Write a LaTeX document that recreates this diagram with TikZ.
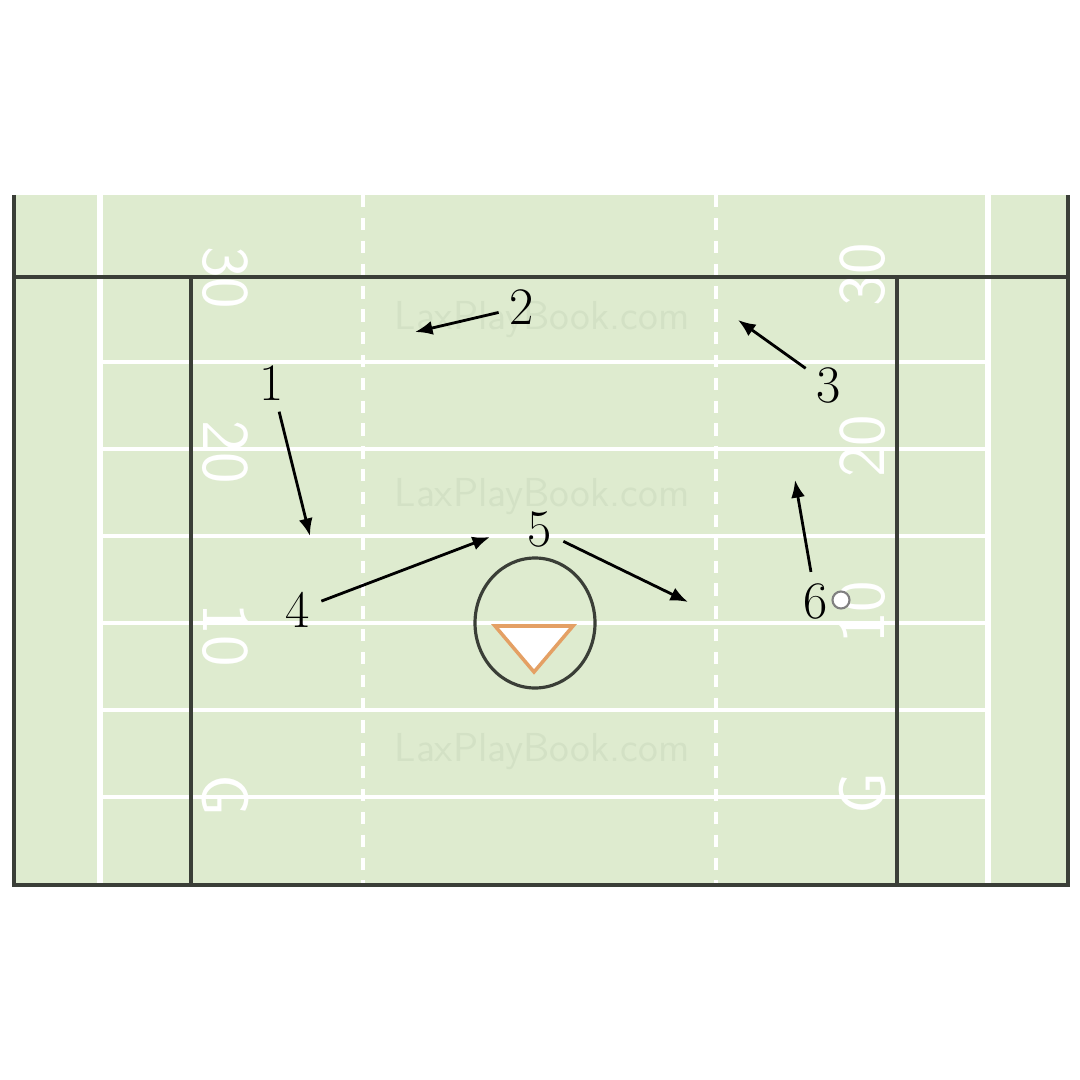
\documentclass[tikz,border=0pt]{standalone}
\usepackage{fontspec}
\usepackage{tikz}
\usetikzlibrary{arrows.meta,positioning,calc}
\definecolor{turf}{RGB}{222,235,207}
\definecolor{boundary}{RGB}{58,62,55}
\definecolor{goalorange}{RGB}{228,160,100}
\definecolor{wmarkcol}{RGB}{211,225,197}

\begin{document}
\begin{tikzpicture}[x=1cm,y=-1cm,
    player/.style={font=\fontsize{15}{18}\selectfont, inner sep=3pt},
    run/.style={-{Latex[length=5pt,width=4pt]}, line width=0.8pt, black},
    yardnum/.style={white, font=\fontsize{19}{22}\selectfont\sffamily, inner sep=0pt},
    watermark/.style={wmarkcol, font=\fontsize{11.5}{14}\selectfont\sffamily}]
    \useasboundingbox (0,0) rectangle (10.8,10.8);
    \fill[turf] (0.14,1.95) rectangle (10.68,8.85);
    % watermark
    \node[watermark] (wm1) at (5.42,3.20) {LaxPlayBook.com};
    \node[watermark] (wm2) at (5.42,4.97) {LaxPlayBook.com};
    \node[watermark] (wm3) at (5.42,7.52) {LaxPlayBook.com};
    % yard lines and sidelines
    \foreach \y in {3.62,4.49,5.36,6.23,7.10,7.97} \draw[white, line width=1.2pt] (1.00,\y) -- (9.88,\y);
    \foreach \x in {1.00,9.88} \draw[white, line width=1.5pt] (\x,1.95) -- (\x,8.85);
    \foreach \x in {3.63,7.16} \draw[white, line width=1.2pt, dash pattern=on 3.5pt off 3pt] (\x,1.95) -- (\x,8.85);
    % yard numbers
    \foreach \t/\y in {30/2.78,20/4.52,10/6.35,G/7.95} \node[yardnum, rotate=-90] (lnum\t) at (2.25,\y) {\t};
    \foreach \t/\y in {30/2.75,20/4.46,10/6.12,G/7.94} \node[yardnum, rotate=90] (rnum\t) at (8.63,\y) {\t};
    % boundary lines
    \draw[boundary, line width=1.2pt] (0.14,1.95) -- (0.14,8.85) -- (10.68,8.85) -- (10.68,1.95);
    \draw[boundary, line width=1.2pt] (0.14,2.77) -- (10.68,2.77);
    \foreach \x in {1.91,8.97} \draw[boundary, line width=1.2pt] (\x,2.77) -- (\x,8.85);
    % crease and goal
    \draw[boundary, line width=0.9pt] (5.35,6.23) ellipse [x radius=0.60, y radius=0.65];
    \draw[goalorange, fill=white, line width=1pt] (4.95,6.26) -- (5.73,6.26) -- (5.34,6.72) -- cycle;
    % players
    \node[player] (p1) at (2.72,3.83) {1};
    \node[player] (p2) at (5.22,3.07) {2};
    \node[player] (p3) at (8.29,3.85) {3};
    \node[player] (p4) at (2.98,6.10) {4};
    \node[player] (p5) at (5.40,5.30) {5};
    \node[player] (p6) at (8.16,6.01) {6};
    \draw[gray, fill=white, line width=0.6pt] (8.41,6.00) circle (0.085);
    % runs
    \coordinate (e1) at (3.10,5.36);
    \coordinate (e2) at (4.15,3.32);
    \coordinate (e3) at (7.38,3.20);
    \coordinate (e4) at (4.90,5.37);
    \coordinate (e5) at (6.88,6.02);
    \coordinate (e6) at (7.95,4.80);
    \foreach \i in {1,...,6} \draw[run] (p\i) -- (e\i);
\end{tikzpicture}
\end{document}
